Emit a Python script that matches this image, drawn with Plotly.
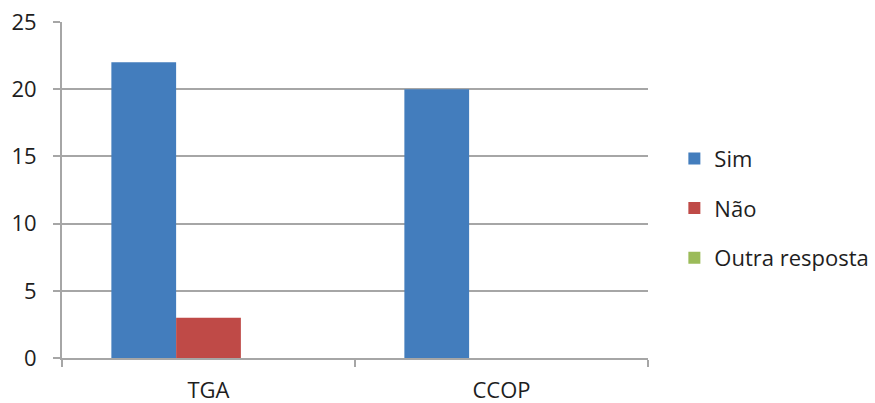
import plotly.graph_objects as go

categories = ["TGA", "CCOP"]
series_names = ["Sim", "Não", "Outra resposta"]
sim_values = [22, 20]
nao_values = [3, 0]
outra_values = [0, 0]
y_ticks = [0, 5, 10, 15, 20, 25]

colors = ["#437DBD", "#BF4A47", "#9BBB59"]
values = [sim_values, nao_values, outra_values]

FONT = "Open Sans"
TXT = "#1E1E1E"
GRID = "#A6A6A6"

fig = go.Figure()
for i, (name, vals) in enumerate(zip(series_names, values)):
    fig.add_trace(go.Bar(
        x=categories, y=vals, name=name,
        marker=dict(color=colors[i], line=dict(width=0)),
        legendgroup=name,
    ))

fig.update_layout(
    width=875, height=403,
    margin=dict(l=62, r=227, t=22, b=45, autoexpand=False),
    paper_bgcolor="white", plot_bgcolor="white",
    barmode="group", bargap=0.337, bargroupgap=0,
    font=dict(family=FONT, size=22, color=TXT),
    showlegend=True,
    legend=dict(
        x=1.045, xanchor="left", y=0.446, yanchor="middle",
        font=dict(family=FONT, size=22, color=TXT),
        tracegroupgap=18, itemwidth=30,
        bgcolor="rgba(0,0,0,0)",
    ),
    xaxis=dict(
        type="category", showgrid=False, automargin=False,
        showline=True, linecolor=GRID, linewidth=2,
        ticks="outside", tickson="boundaries", ticklen=7,
        tickcolor=GRID, tickwidth=2,
        tickfont=dict(family=FONT, size=22, color=TXT),
        ticklabelstandoff=12,
    ),
    yaxis=dict(
        range=[0, 25], tickvals=y_ticks, automargin=False,
        showgrid=True, gridcolor=GRID, gridwidth=2,
        zeroline=False,
        showline=True, linecolor=GRID, linewidth=2,
        ticks="outside", ticklen=7, tickcolor=GRID, tickwidth=2,
        tickfont=dict(family=FONT, size=22, color=TXT),
        ticklabelstandoff=12,
    ),
)

fig.write_html("out.html")
